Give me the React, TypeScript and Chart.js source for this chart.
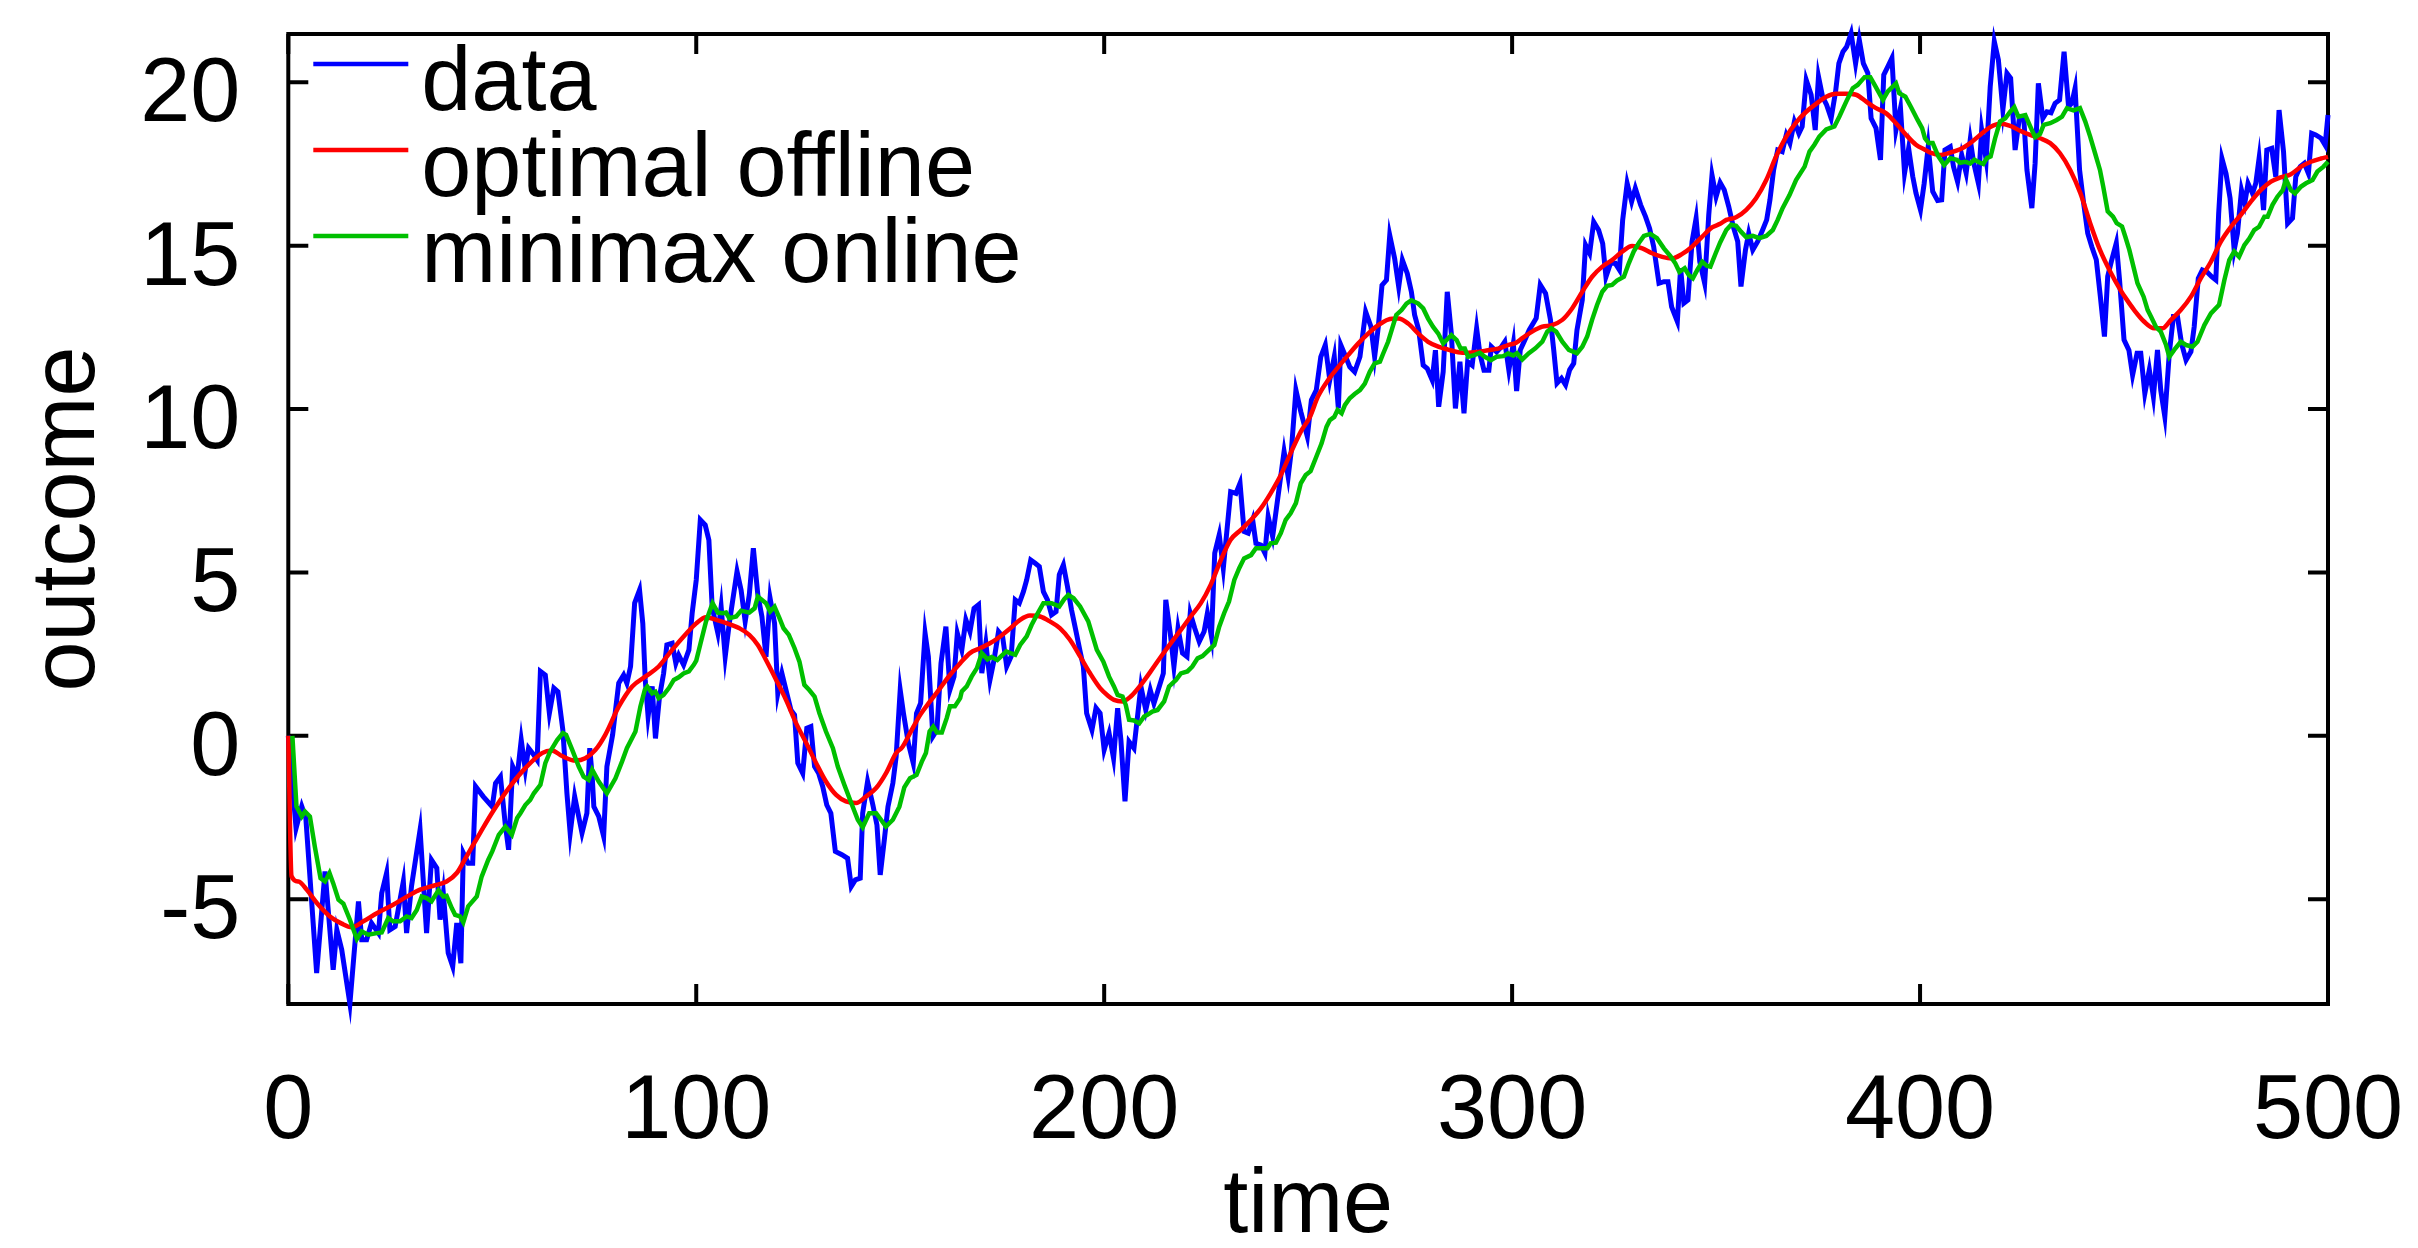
import React, { useEffect, useRef } from "react";
import { Chart, registerables } from "chart.js";

Chart.register(...registerables);

// ---- data ----
const dataT = [
  0, 1.9, 3.3, 4.3, 6.95, 9.0, 11.0, 11.9, 13.1, 15.1, 17.2, 18.0, 19.2, 20.4, 22.1, 22.9, 24.1, 24.9, 26.2, 28.2,
  29.0, 30.2, 32.3, 33.9, 35.1, 36.4, 37.2, 38.0, 39.2, 40.3, 41.3, 42.3, 42.9, 44.1, 45.2, 45.9, 47.8, 50.0,
  50.8, 52.0, 53.2, 54.0, 55.0, 56.1, 57.1, 58.1, 58.9, 60.2, 61.0, 61.8, 63.0, 64.0, 65.1, 66.1, 67.3, 68.3,
  69.1, 70.2, 72.0, 73.2, 73.9, 74.5, 74.9, 76.1, 77.3, 78.1, 79.5, 81.0, 82.2, 83.0, 83.9, 84.9, 86.1, 86.9,
  87.5, 88.2, 89.2, 90.0, 91.0, 92.0, 92.8, 94.1, 95.0, 95.7, 96.9, 98.2, 99.0, 100.0,
  101.0, 102.2, 103.1, 103.9, 104.4, 105.3, 106.1, 107.1, 108.1, 110.0, 111.0, 112.0, 113.0, 114.0, 115.1,
  116.1, 117.1, 118.1, 119.2, 120.0, 121.0, 122.2, 123.2, 124.1, 124.9, 126.1, 127.1, 128.1, 129.0, 130.0,
  131.0, 132.0, 133.0, 134.1, 135.7, 137.1, 138.0, 139.0, 140.2, 140.8, 142.0, 143.3, 144.3, 145.1, 146.1,
  147.0, 148.2, 149.0, 150.0,
  150.8, 152.0, 153.2, 154.0, 155.0, 156.1, 156.9, 158.0, 159.0, 160.0, 161.2, 162.2, 163.2, 164.0, 165.1,
  166.1, 167.1, 168.1, 169.2, 170.0, 171.0, 172.0, 173.0, 174.1, 175.1, 176.1, 177.2, 178.2, 179.2, 180.2,
  181.0, 182.0, 183.1, 184.1, 185.1, 186.1, 187.1, 188.2, 189.0, 190.0, 191.0, 192.0, 193.1, 194.1, 194.9,
  195.7, 197.0, 198.0, 199.0, 200.0, 201.2, 202.3,
  203.3, 204.1, 205.1, 206.1, 207.3, 209.0, 210.2, 211.3, 212.2, 213.5, 214.5, 215.1, 216.2, 217.1, 218.1,
  219.2, 220.3, 221.1, 222.2, 223.3, 224.5, 225.3, 226.3, 227.1, 228.2, 229.2, 231.0, 232.3, 233.3, 234.3,
  235.3, 236.4, 237.2, 238.4, 239.4, 240.2, 241.3, 242.5, 244.1, 245.1, 245.9, 247.0, 248.2, 249.8, 250.8,
  252.0, 253.1, 254.2, 255.3, 256.4, 257.4, 258.0, 259.2, 260.2, 261.4, 262.7, 264.1, 265.4, 266.3, 267.2,
  268.1, 269.2, 270.0, 271.2, 272.2, 273.1, 274.3, 275.3, 276.1, 277.1, 278.2, 279.2, 280.4, 281.2, 282.0,
  283.1, 284.1, 285.1, 286.1, 287.2, 288.2, 289.1, 290.2, 291.3, 292.1, 293.1, 294.3, 294.9, 296.2, 297.4,
  298.2, 299.2, 300.3,
  301.1, 302.0, 303.1, 304.2, 305.9, 306.9, 308.2, 309.4, 310.2, 311.0, 312.1, 313.1, 314.1, 315.1, 315.9,
  317.2, 318.0, 319.0, 320.0, 321.2, 322.2, 323.0, 324.1, 325.3, 326.3, 327.1, 328.2, 329.3, 330.2, 331.5,
  332.7, 333.7, 334.7, 336.0, 337.2, 338.2, 339.1, 340.5, 341.3, 342.1, 343.1, 344.1, 345.1, 346.0, 347.2,
  348.2, 349.0, 350.0, 351.0,
  352.0, 353.1, 354.2, 355.3, 356.1, 357.2, 358.0, 359.0, 360.2, 361.4, 362.4, 363.2, 364.1, 365.1, 366.2,
  367.2, 368.1, 369.2, 370.3, 371.1, 372.1, 373.3, 374.3, 375.1, 376.1, 377.1, 378.2, 379.3, 380.1, 381.1,
  382.0, 383.1, 384.2, 385.1, 386.1, 387.2, 388.0, 389.2, 390.3, 391.1, 392.1, 393.1, 394.1, 395.2, 396.2,
  397.2, 398.2, 399.0, 400.1,
  401.0, 402.0, 403.1, 404.3, 405.3, 406.1, 407.4, 408.2, 409.2, 410.2, 411.3, 412.3, 413.1, 414.3, 415.1,
  416.2, 417.2, 418.2, 419.2, 420.3, 421.3, 422.2, 423.3, 424.4, 425.4, 426.2, 427.4, 428.2, 429.0, 430.1,
  431.1, 432.1, 433.1, 434.2, 435.3, 436.4, 437.2, 438.0, 439.1, 440.1, 441.1, 442.1, 443.2, 444.2, 445.2,
  446.0, 447.0, 448.1, 448.9, 450.0, 451.2,
  452.1, 453.2, 454.1, 455.1, 456.2, 457.2, 458.2, 459.0, 460.0, 461.1, 462.1, 463.1, 464.1, 465.2, 466.4,
  467.2, 468.2, 469.2, 470.3, 471.5, 472.5, 473.2, 474.0, 475.0, 476.0, 477.0, 477.8, 478.8, 479.6, 480.4,
  481.5, 482.3, 483.1, 484.2, 485.0, 486.2, 487.2, 488.0, 489.1, 490.1, 491.3, 492.1, 493.2, 494.2, 495.2,
  496.0, 497.0, 498.3, 499.3, 500.0,
];
const dataV = [
  0, -2.83, -2.16, -2.52, -7.26, -4.15, -7.16, -5.94, -6.55, -8.2, -5.07, -6.24, -6.24, -5.73, -6.04, -4.82, -4.2, -5.94, -5.84, -4.46,
  -6.04, -4.61, -2.88, -6.04, -3.8, -4.05, -5.63, -4.82, -6.65, -7.06, -5.73, -6.96, -3.59, -3.9, -3.9, -1.55, -1.86, -2.17,
  -1.45, -1.25, -2.73, -3.49, -0.94, -1.25, -0.13, -1.04, -0.38, -0.59, -0.74, 1.97, 1.86, 0.69, 1.46, 1.35, 0.18, -1.76,
  -2.98, -1.86, -2.98, -2.37, -0.38, -1.25, -2.17, -2.47, -3.08, -0.94, 0.03, 1.61, 1.86, 1.61, 2.12, 4.06, 4.46, 3.44,
  1.71, 0.59, 1.51, -0.08, 1.2, 1.91, 2.78, 2.83, 2.22, 2.47, 2.17, 2.63, 3.75, 4.77,
  6.61, 6.45, 5.99, 3.95, 3.65, 3.14, 3.95, 2.42, 3.44, 5.03, 4.46, 3.5, 4.31, 5.74, 4.31,
  3.65, 2.42, 4.21, 3.44, 1.3, 1.91, 1.3, 0.79, 0.64, -0.84, -1.15, 0.23, 0.28, -0.94, -1.15,
  -1.55, -2.12, -2.37, -3.54, -3.64, -3.75, -4.61, -4.41, -4.36, -2.37, -1.4, -2.12, -2.73, -4.26, -3.19,
  -2.17, -1.45, -0.64, 1.4,
  0.69, -0.23, -0.84, 0.69, 1.0, 3.14, 2.43, -0.02, 0.18, 2.22, 3.34, 1.41, 1.81, 3.14, 2.63,
  3.55, 3.19, 3.9, 4.01, 1.92, 2.83, 1.71, 2.32, 3.19, 3.04, 2.12, 2.43, 4.16, 4.06, 4.41,
  4.77, 5.38, 5.28, 5.18, 4.41, 4.16, 3.7, 3.8, 4.93, 5.23, 4.57, 3.85, 3.19, 2.58, 2.12,
  0.69, 0.18, 0.85, 0.69, -0.43, 0.08, -0.69,
  0.84, -0.13, -2.01, -0.18, -0.38, 1.51, 0.79, 1.4, 0.99, 1.51, 1.91, 4.16, 3.14, 2.12, 3.29,
  2.53, 2.42, 3.75, 3.29, 2.88, 3.19, 3.75, 3.04, 5.59, 6.15, 5.13, 7.47, 7.42, 7.73, 6.25,
  6.2, 6.61, 5.89, 5.84, 5.59, 6.71, 6.1, 7.22, 8.7, 7.93, 8.75, 10.58, 9.92, 9.16, 10.28,
  10.58, 11.6, 11.96, 10.89, 11.6, 10.02, 11.96, 11.6, 11.29, 11.14, 11.6, 12.98, 12.52, 11.6, 12.52,
  13.79, 13.95, 15.32, 14.61, 13.74, 14.56, 14.15, 13.59, 12.88, 12.42, 11.34, 11.24, 10.89, 11.8, 10.07,
  11.14, 13.59, 12.31, 10.02, 11.45, 9.87, 11.45, 11.34, 12.47, 11.7, 11.19, 11.19, 11.91, 11.75, 11.91,
  12.06, 11.19, 12.01,
  10.55, 11.81, 12.11, 12.42, 12.78, 13.8, 13.54, 12.73, 11.81, 10.79, 10.94, 10.74, 11.2, 11.4, 12.42,
  13.34, 15.02, 14.77, 15.73, 15.48, 15.07, 14.05, 14.46, 14.46, 14.26, 15.79, 16.91, 16.35, 16.76, 16.25,
  15.89, 15.53, 14.97, 13.85, 13.9, 13.9, 13.13, 12.68, 14.31, 13.24, 13.34, 15.12, 15.84, 14.51, 13.85,
  15.94, 17.16, 16.5, 16.93,
  16.71, 16.2, 15.59, 15.13, 13.75, 14.87, 15.38, 14.87, 15.13, 15.48, 15.79, 16.4, 17.32, 17.93, 17.88,
  18.39, 18.14, 18.8, 18.44, 18.65, 20.07, 19.62, 18.54, 20.18, 19.56, 19.31, 18.9, 19.72, 20.58, 20.94,
  21.09, 21.5, 20.58, 21.3, 20.58, 20.28, 18.9, 18.6, 17.63, 20.23, 20.48, 20.74, 18.54, 19.21, 17.22,
  17.98, 17.12, 16.61, 16.1,
  16.9, 18.03, 16.66, 16.38, 16.4, 17.93, 18.03, 17.42, 16.96, 17.78, 17.22, 18.24, 17.57, 16.91, 18.54,
  17.63, 19.87, 21.25, 20.69, 19.16, 20.28, 20.13, 17.93, 18.95, 18.95, 17.32, 16.15, 17.52, 19.97, 18.9,
  19.1, 19.07, 19.36, 19.46, 20.94, 19.26, 19.36, 19.82, 17.32, 16.3, 15.38, 14.97, 14.57, 13.44, 12.22,
  14.06, 14.57, 15.08, 13.95, 12.12, 11.8,
  11.04, 11.71, 11.71, 10.48, 11.2, 10.38, 11.81, 10.58, 9.77, 11.71, 12.83, 12.83, 12.01, 11.5, 11.76,
  12.52, 14.0, 14.26, 14.2, 14.05, 13.95, 15.99, 17.67, 17.21, 16.45, 14.87, 15.38, 16.7, 16.3, 16.91,
  16.6, 16.91, 17.67, 16.09, 17.93, 17.98, 17.11, 19.15, 17.88, 15.68, 15.84, 17.11, 17.42, 17.52, 17.21,
  18.44, 18.39, 18.29, 18.08, 19.0,
];

const offlineT = [
  0, 0.8, 2.5, 4.5, 7.0, 10.2, 13.1, 15.5, 18.4, 21.7, 25.7, 29.8, 32.3, 35.6, 38.8, 41.3, 43.7, 47.0, 50.0,
  54.0, 58.1, 62.2, 64.6, 67.1, 70.4, 72.8, 75.3, 77.7, 81.0, 84.3, 87.5, 90.8, 94.1, 97.3, 100.0,
  102.4, 104.9, 108.1, 110.6, 113.0, 115.1, 117.1, 119.6, 122.0, 124.5, 127.0, 129.4, 131.8, 134.3, 136.7,
  139.2, 141.6, 144.1, 146.5, 149.0, 150.5, 152.4, 154.9, 157.3, 159.8, 162.2, 164.7, 167.1, 169.6, 172.0,
  174.5, 177.0, 179.4, 181.8, 184.3, 186.7, 189.2, 191.6, 194.1, 196.5, 199.0, 201.0, 202.4, 204.5, 206.5,
  209.0, 211.4, 213.9, 216.3, 218.8, 221.2, 223.7, 226.1, 228.6, 231.0, 233.5, 236.0, 238.4, 240.8, 243.3,
  245.7, 248.2, 250.4, 252.4, 254.9, 257.4, 259.8, 262.3, 264.7, 267.2, 269.6, 272.1, 274.5, 277.0, 279.4,
  281.9, 284.3, 286.8, 289.2, 291.7, 294.1, 296.6, 299.0, 301.0, 302.5, 304.9, 307.4, 309.8, 312.3, 314.7,
  317.2, 319.6, 322.1, 324.5, 327.0, 329.4, 331.9, 334.3, 336.8, 339.2, 341.7, 344.1, 346.6, 349.0, 351.0,
  352.5, 354.9, 357.4, 359.8, 362.3, 364.7, 367.2, 369.6, 372.1, 374.5, 377.0, 379.4, 381.9, 384.3, 386.8,
  389.2, 391.7, 394.1, 396.6, 399.0, 401.0, 402.5, 404.9, 407.4, 409.8, 412.3, 414.7, 417.2, 419.6, 422.1,
  424.5, 427.0, 429.4, 431.9, 434.3, 436.8, 439.3, 441.7, 444.1, 446.6, 449.1, 450.5, 452.5, 454.9, 457.4,
  459.4, 461.5, 463.9, 466.4, 468.8, 471.3, 473.7, 476.2, 478.6, 481.1, 483.5, 486.0, 488.4, 490.9, 493.4,
  495.8, 498.3, 500.0,
];
const offlineV = [
  0, -4.3, -4.46, -4.71, -5.12, -5.53, -5.75, -5.86, -5.68, -5.43, -5.17, -4.87, -4.71, -4.59, -4.46, -4.2, -3.69, -2.98, -2.35,
  -1.61, -0.99, -0.53, -0.45, -0.62, -0.76, -0.69, -0.43, 0.03, 0.89, 1.51, 1.81, 2.12, 2.63, 3.09, 3.44,
  3.63, 3.55, 3.42, 3.29, 3.09, 2.78, 2.32, 1.71, 1.1, 0.38, -0.23, -0.84, -1.4, -1.81, -2.01,
  -2.06, -1.86, -1.6, -1.15, -0.53, -0.35, 0.08, 0.64, 1.05, 1.46, 1.86, 2.22, 2.53, 2.68, 2.83,
  3.04, 3.29, 3.55, 3.68, 3.65, 3.5, 3.29, 2.94, 2.43, 1.92, 1.46, 1.22, 1.1, 1.05, 1.2,
  1.56, 1.97, 2.42, 2.83, 3.24, 3.65, 4.06, 4.62, 5.38, 6.0, 6.3, 6.61, 6.96, 7.42, 7.98,
  8.65, 9.31, 9.75, 10.38, 10.89, 11.29, 11.65, 12.01, 12.31, 12.57, 12.74, 12.77, 12.62, 12.31, 12.06,
  11.91, 11.82, 11.74, 11.72, 11.75, 11.8, 11.85, 11.96, 12.03, 12.17, 12.37, 12.52, 12.57, 12.73, 13.08,
  13.59, 14.05, 14.36, 14.56, 14.82, 14.99, 14.92, 14.77, 14.66, 14.61, 14.75, 14.97, 15.28, 15.56, 15.67,
  15.79, 15.87, 16.1, 16.45, 17.01, 17.73, 18.34, 18.77, 19.1, 19.34, 19.56, 19.65, 19.65, 19.62, 19.41,
  19.21, 19.05, 18.75, 18.39, 18.09, 17.95, 17.85, 17.78, 17.85, 17.95, 18.14, 18.39, 18.63, 18.73, 18.67,
  18.52, 18.39, 18.29, 18.14, 17.83, 17.32, 16.61, 15.69, 14.87, 14.21, 13.65, 13.38, 13.03, 12.68, 12.47,
  12.47, 12.73, 13.03, 13.44, 14.0, 14.51, 15.12, 15.58, 15.94, 16.35, 16.7, 16.96, 17.09, 17.19, 17.42,
  17.57, 17.67, 17.72,
];

const onlineT = [
  1.0, 2.0, 3.3, 4.1, 5.3, 6.5, 7.9, 9.0, 10.1, 11.0, 12.3, 13.5, 15.1, 16.8, 18.0, 19.6, 21.7, 22.9, 24.5, 25.7,
  27.4, 29.0, 30.2, 31.5, 32.7, 33.9, 35.1, 36.8, 38.0, 38.8, 40.1, 40.9, 42.1, 42.9, 44.1, 46.2, 47.4, 49.0, 50.0,
  51.6, 53.2, 54.8, 56.1, 56.9, 58.1, 59.3, 60.2, 61.8, 63.0, 64.2, 65.9, 67.3, 68.1, 69.6, 71.2, 72.4, 73.6,
  74.5, 76.1, 78.1, 80.2, 81.8, 83.0, 85.1, 86.3, 87.4, 88.0, 89.2, 90.0, 90.8, 92.0, 93.3, 94.5, 95.7, 96.9,
  98.2, 99.4, 100.0, 101.0, 102.4, 104.0, 105.3, 106.5, 107.3, 108.1, 109.8, 111.0, 113.0, 114.3, 115.1, 117.1,
  118.1, 119.2, 120.4, 121.4, 122.7, 124.1, 125.3, 126.5, 127.7, 129.0, 130.2, 131.8, 133.5, 134.7, 136.3,
  138.0, 139.6, 140.8, 142.4, 144.1, 145.3, 146.5, 148.2, 149.8, 151.0, 152.4, 154.0, 155.3, 156.3, 157.2,
  158.1, 159.0, 160.2, 161.4, 162.2, 163.4, 164.7, 165.1, 166.3, 167.5, 168.8, 170.0, 171.4, 172.4, 173.8,
  176.0, 177.0, 178.2, 179.4, 181.0, 182.2, 183.5, 185.1, 187.1, 189.0, 190.2, 191.2, 192.5, 194.1, 196.1,
  198.2, 199.8, 201.2, 202.4, 203.3, 204.5, 205.3, 206.1, 207.3, 208.6, 209.8, 210.6, 211.8, 213.1, 214.7,
  215.9, 217.6, 218.8, 220.4, 221.6, 222.9, 224.1, 225.7, 227.0, 228.2, 229.4, 230.6, 231.9, 233.1, 234.3,
  236.0, 237.2, 238.4, 240.0, 240.8, 242.1, 243.3, 244.5, 245.7, 247.0, 248.2, 249.4, 250.6, 252.0, 253.3,
  254.5, 255.3, 256.4, 257.2, 258.2, 259.0, 260.2, 261.4, 262.7, 263.9, 265.1, 266.3, 267.6, 268.4, 269.6,
  270.6, 271.6, 272.9, 274.1, 275.3, 277.0, 278.2, 279.4, 280.6, 281.9, 283.1, 284.3, 285.1, 286.4, 287.4,
  288.4, 289.2, 290.7, 292.1, 293.3, 294.8, 296.2, 297.8, 299.0, 300.3, 301.2, 302.5, 304.1, 305.7, 307.4,
  308.6, 309.6, 310.8, 312.3, 313.9, 315.9, 317.2, 318.4, 319.6, 320.8, 322.1, 323.3, 324.5, 325.7, 327.4,
  328.6, 329.8, 331.1, 332.3, 333.9, 335.5, 337.2, 338.8, 340.0, 341.0, 342.3, 343.3, 344.3, 345.4, 346.6,
  347.8, 348.6, 349.9, 351.0, 352.5, 353.7, 354.9, 356.1, 357.4, 359.0, 360.6, 362.3, 363.9, 365.1, 366.3,
  368.0, 369.6, 371.7, 372.9, 374.1, 375.3, 377.0, 379.0, 380.2, 381.9, 383.5, 384.7, 386.4, 387.8, 389.1,
  390.9, 392.1, 394.1, 394.9, 396.4, 397.8, 399.4, 400.5, 401.2, 402.1, 403.1, 404.5, 405.9, 407.4, 409.0,
  409.8, 411.1, 412.3, 413.3, 414.7, 415.5, 416.4, 417.3, 418.4, 419.6, 420.9, 422.1, 423.1, 424.1, 425.8,
  427.0, 428.2, 429.4, 430.3, 431.9, 433.5, 434.8, 436.0, 437.6, 439.2, 440.5, 441.7, 442.9, 444.1, 444.9,
  446.0, 447.3, 448.2, 449.5, 450.3, 451.3, 452.5, 453.3, 454.8, 455.8, 456.6, 457.8, 459.0, 460.3, 461.1,
  462.3, 463.9, 465.2, 466.8, 468.0, 469.7, 471.3, 473.3, 474.6, 475.8, 477.0, 478.2, 479.5, 480.7, 481.9,
  483.1, 484.4, 485.2, 486.4, 487.6, 488.9, 489.7, 490.9, 491.9, 493.4, 494.6, 496.2, 497.4, 498.9, 500.0,
];
const onlineV = [
  0, -2.16, -2.47, -2.32, -2.47, -3.39, -4.36, -4.46, -4.2, -4.51, -5.02, -5.14, -5.63, -6.22, -5.99, -6.09, -6.04, -6.02, -5.58, -5.68,
  -5.68, -5.53, -5.58, -5.33, -4.92, -4.97, -5.07, -4.73, -4.92, -4.9, -5.28, -5.48, -5.53, -5.71, -5.22, -4.92, -4.31, -3.8, -3.54,
  -3.03, -2.78, -3.03, -2.52, -2.37, -2.12, -1.96, -1.76, -1.5, -0.84, -0.48, -0.13, 0.08, 0.03, -0.43, -0.94, -1.25, -1.35,
  -1.04, -1.4, -1.76, -1.3, -0.79, -0.38, 0.13, 0.89, 1.41, 1.51, 1.3, 1.35, 1.15, 1.25, 1.46, 1.71, 1.79, 1.91,
  1.97, 2.17, 2.3, 2.8, 3.5, 4.06, 3.77, 3.75, 3.77, 3.6, 3.65, 3.83, 3.77, 3.9, 4.26, 4.06,
  3.8, 3.95, 3.6, 3.29, 3.09, 2.68, 2.27, 1.56, 1.4, 1.2, 0.69, 0.13, -0.38, -0.94, -1.5,
  -2.06, -2.57, -2.8, -2.37, -2.37, -2.57, -2.78, -2.57, -2.17, -1.58, -1.3, -1.2, -0.79, -0.53, 0.13,
  0.28, 0.1, 0.1, 0.54, 0.9, 0.9, 1.15, 1.36, 1.51, 1.81, 2.07, 2.53, 2.34, 2.41, 2.32,
  2.58, 2.53, 2.48, 2.78, 3.04, 3.39, 3.7, 4.06, 4.06, 3.96, 4.18, 4.31, 4.21, 3.96, 3.5,
  2.63, 2.27, 1.81, 1.51, 1.25, 1.2, 0.94, 0.49, 0.47, 0.38, 0.59, 0.64, 0.74, 0.79, 1.05,
  1.51, 1.71, 1.91, 1.97, 2.12, 2.37, 2.44, 2.63, 2.78, 3.34, 3.75, 4.11, 4.77, 5.13, 5.43,
  5.53, 5.74, 5.74, 5.74, 5.89, 5.91, 6.2, 6.61, 6.81, 7.12, 7.73, 7.98, 8.1, 8.54, 8.95,
  9.46, 9.66, 9.76, 9.97, 9.87, 10.12, 10.33, 10.46, 10.58, 10.78, 11.14, 11.4, 11.45, 11.7, 12.06,
  12.47, 12.88, 13.03, 13.23, 13.33, 13.23, 13.08, 12.77, 12.52, 12.31, 12.01, 12.16, 12.26, 12.11, 11.85,
  11.85, 11.6, 11.65, 11.72, 11.6, 11.5, 11.6, 11.62, 11.7, 11.64, 11.71, 11.52, 11.71, 11.86, 12.06,
  12.37, 12.47, 12.37, 12.06, 11.81, 11.71, 11.91, 12.22, 12.73, 13.18, 13.59, 13.77, 13.8, 13.93, 14.05,
  14.46, 14.82, 15.09, 15.3, 15.36, 15.23, 14.92, 14.68, 14.46, 14.2, 14.31, 14.1, 14.0, 14.26, 14.51,
  14.38, 14.36, 14.77, 15.1, 15.48, 15.64, 15.61, 15.43, 15.26, 15.3, 15.23, 15.3, 15.48, 15.79, 16.15,
  16.55, 17.01, 17.42, 17.88, 18.09, 18.34, 18.56, 18.65, 18.95, 19.41, 19.82, 19.92, 20.16, 20.16, 19.87,
  19.46, 19.72, 19.97, 19.67, 19.56, 19.24, 18.85, 18.6, 18.29, 18.14, 18.14, 17.73, 17.47, 17.68, 17.63,
  17.54, 17.57, 17.52, 17.63, 17.54, 17.5, 17.68, 17.73, 18.29, 18.8, 18.9, 19.1, 19.24, 18.95, 19.0,
  18.65, 18.32, 18.42, 18.7, 18.75, 18.85, 18.95, 19.21, 19.14, 19.21, 18.8, 18.34, 17.83, 17.32, 16.81,
  16.05, 15.89, 15.69, 15.59, 15.28, 14.87, 14.26, 13.85, 13.44, 13.03, 12.83, 12.52, 12.37, 11.96, 11.6,
  11.81, 12.06, 11.96, 11.91, 12.06, 12.57, 12.93, 13.19, 13.95, 14.56, 14.82, 14.66, 15.02, 15.22, 15.48,
  15.58, 15.89, 15.89, 16.25, 16.5, 16.7, 17.03, 16.7, 16.6, 16.81, 16.91, 17.01, 17.27, 17.42, 17.57,
];

const xTickValues = [0, 100, 200, 300, 400, 500];
const yTickValues = [-5, 0, 5, 10, 15, 20];
const seriesLabels = ["data", "optimal offline", "minimax online"];
const seriesColors = ["#0000ff", "#ff0000", "#00bf00"];
const xTitle = "time";
const yTitle = "outcome";

const FONT = '"Liberation Sans", Arial, Helvetica, sans-serif';

const toPoints = (ts: number[], vs: number[]) => ts.map((t, i) => ({ x: t, y: vs[i] }));

const zeroPadding = (s: any) => {
  s.paddingLeft = 0;
  s.paddingRight = 0;
  s.paddingTop = 0;
  s.paddingBottom = 0;
};

const framePlugin = {
  id: "frameTicks",
  beforeDatasetsDraw(chart: any) {
    const { ctx, chartArea, scales } = chart;
    const { left, right, top, bottom } = chartArea;
    const tl = 20;
    ctx.save();
    ctx.strokeStyle = "#000";
    ctx.lineWidth = 4;
    ctx.strokeRect(left, top, right - left, bottom - top);
    ctx.beginPath();
    scales.x.ticks.forEach((t: any) => {
      const px = scales.x.getPixelForValue(t.value);
      ctx.moveTo(px, bottom);
      ctx.lineTo(px, bottom - tl);
      ctx.moveTo(px, top);
      ctx.lineTo(px, top + tl);
    });
    scales.y.ticks.forEach((t: any) => {
      const py = scales.y.getPixelForValue(t.value);
      ctx.moveTo(left, py);
      ctx.lineTo(left + tl, py);
      ctx.moveTo(right, py);
      ctx.lineTo(right - tl, py);
    });
    ctx.stroke();
    ctx.restore();
  },
};

const legendPlugin = {
  id: "insideLegend",
  afterDatasetsDraw(chart: any) {
    const { ctx, chartArea } = chart;
    const rowGap = 86;
    ctx.save();
    ctx.font = `90px ${FONT}`;
    ctx.textAlign = "left";
    ctx.textBaseline = "alphabetic";
    chart.data.datasets.forEach((ds: any, i: number) => {
      const lineY = chartArea.top + 30 + i * rowGap;
      ctx.strokeStyle = ds.borderColor;
      ctx.lineWidth = 4.5;
      ctx.beginPath();
      ctx.moveTo(chartArea.left + 25, lineY);
      ctx.lineTo(chartArea.left + 120, lineY);
      ctx.stroke();
      ctx.fillStyle = "#000";
      ctx.fillText(ds.label, chartArea.left + 133, chartArea.top + 76 + i * rowGap);
    });
    ctx.restore();
  },
};

export default function App() {
  const canvasRef = useRef<HTMLCanvasElement | null>(null);

  useEffect(() => {
    if (!canvasRef.current) return;
    const chart = new Chart(canvasRef.current, {
      type: "line",
      data: {
        datasets: [
          {
            label: seriesLabels[0],
            data: toPoints(dataT, dataV),
            borderColor: seriesColors[0],
            backgroundColor: seriesColors[0],
            borderWidth: 5,
            pointRadius: 0,
            tension: 0,
            clip: false,
            order: 3,
          },
          {
            label: seriesLabels[1],
            data: toPoints(offlineT, offlineV),
            borderColor: seriesColors[1],
            backgroundColor: seriesColors[1],
            borderWidth: 4.5,
            pointRadius: 0,
            cubicInterpolationMode: "monotone",
            clip: false,
            order: 2,
          },
          {
            label: seriesLabels[2],
            data: toPoints(onlineT, onlineV),
            borderColor: seriesColors[2],
            backgroundColor: seriesColors[2],
            borderWidth: 4.5,
            pointRadius: 0,
            tension: 0,
            clip: false,
            order: 1,
          },
        ],
      } as any,
      options: {
        animation: false,
        responsive: false,
        devicePixelRatio: 1,
        events: [],
        layout: { padding: { left: 0, right: 90, top: 34, bottom: 0 } },
        plugins: {
          legend: { display: false },
          tooltip: { enabled: false },
        },
        scales: {
          x: {
            type: "linear",
            min: 0,
            max: 500,
            grid: { display: false, drawTicks: false },
            border: { display: false },
            afterBuildTicks: (s: any) => {
              s.ticks = xTickValues.map((v) => ({ value: v }));
            },
            afterFit: (s: any) => {
              s.height = 244;
              zeroPadding(s);
            },
            ticks: {
              color: "#000",
              font: { family: FONT, size: 90 },
              padding: 55,
              maxRotation: 0,
              autoSkip: false,
            },
            title: {
              display: true,
              text: xTitle,
              color: "#000",
              font: { family: FONT, size: 90, lineHeight: 0.9 },
              padding: { top: 0, bottom: 0 },
            },
          },
          y: {
            type: "linear",
            min: -8.21,
            max: 21.48,
            grid: { display: false, drawTicks: false },
            border: { display: false },
            afterBuildTicks: (s: any) => {
              s.ticks = yTickValues.map((v) => ({ value: v }));
            },
            afterFit: (s: any) => {
              s.width = 288.3;
              zeroPadding(s);
            },
            ticks: {
              color: "#000",
              font: { family: FONT, size: 90 },
              padding: 48,
              labelOffset: 14,
              autoSkip: false,
            },
            title: {
              display: true,
              text: yTitle,
              color: "#000",
              font: { family: FONT, size: 90, lineHeight: 0.9 },
              padding: { top: 28.5, bottom: 0 },
            },
          },
        },
      } as any,
      plugins: [framePlugin, legendPlugin],
    });
    return () => chart.destroy();
  }, []);

  return (
    <div style={{ position: "fixed", left: 0, top: 0, width: 2418, height: 1248, background: "#fff" }}>
      <canvas ref={canvasRef} width={2418} height={1248} style={{ display: "block", width: 2418, height: 1248 }} />
    </div>
  );
}
